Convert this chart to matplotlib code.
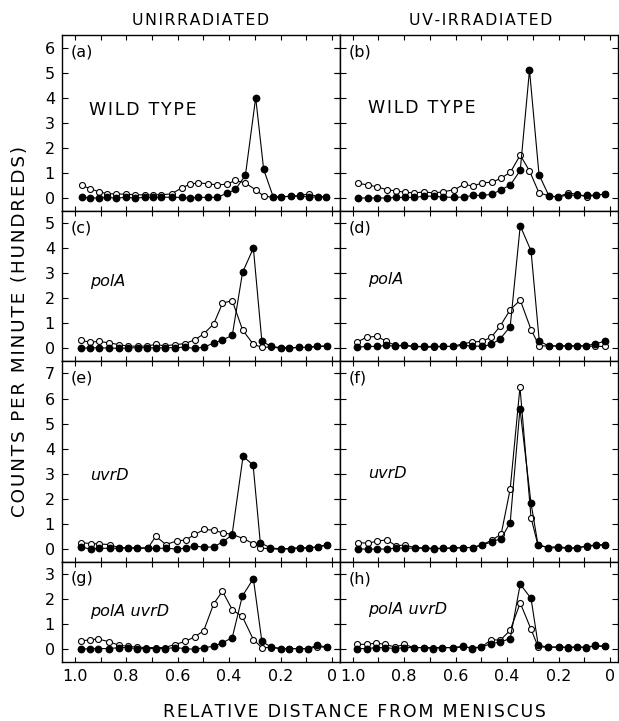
import matplotlib
matplotlib.use('Agg')
import matplotlib.pyplot as plt

plt.rcParams['font.family'] = ['DejaVu Sans']

col_titles = ['UNIRRADIATED', 'UV-IRRADIATED']
panel_tags = ['(a)', '(b)', '(c)', '(d)', '(e)', '(f)', '(g)', '(h)']
strains = ['WILD TYPE', 'polA', 'uvrD', 'polA uvrD']
row_tops = [6, 5, 7, 3]
x_tick_labels = ['1.0', '0.8', '0.6', '0.4', '0.2', '0']
y_title = 'COUNTS PER MINUTE (HUNDREDS)'
x_title = 'RELATIVE DISTANCE FROM MENISCUS'

# (a) wild type, unirradiated
x_a = [0.971, 0.939, 0.906, 0.874, 0.839, 0.800, 0.767, 0.728, 0.695, 0.663, 0.624, 0.585, 0.552, 0.520,
       0.484, 0.448, 0.409, 0.376, 0.337, 0.297, 0.266, 0.229, 0.198, 0.161, 0.125, 0.090, 0.055, 0.022]
open_a = [0.50, 0.36, 0.25, 0.17, 0.16, 0.15, 0.13, 0.12, 0.12, 0.13, 0.16, 0.40, 0.55, 0.60,
          0.57, 0.52, 0.55, 0.70, 0.60, 0.32, 0.08, 0.02, 0.05, 0.06, 0.10, 0.16, 0.05, 0.05]
filled_a = [0.02, 0.00, 0.00, 0.02, 0.00, 0.02, 0.00, 0.02, 0.03, 0.03, 0.03, 0.02, 0.00, 0.03,
            0.02, 0.03, 0.18, 0.34, 0.90, 4.00, 1.14, 0.05, 0.05, 0.07, 0.08, 0.05, 0.03, 0.05]

# (b) wild type, UV
x_b = [0.979, 0.940, 0.905, 0.868, 0.833, 0.797, 0.762, 0.723, 0.686, 0.651, 0.605, 0.566, 0.534, 0.497,
       0.458, 0.423, 0.387, 0.349, 0.313, 0.276, 0.237, 0.202, 0.163, 0.128, 0.091, 0.055, 0.020]
open_b = [0.58, 0.52, 0.44, 0.33, 0.28, 0.23, 0.20, 0.24, 0.20, 0.24, 0.33, 0.55, 0.47, 0.60,
          0.63, 0.79, 1.03, 1.71, 1.08, 0.20, 0.09, 0.04, 0.20, 0.15, 0.04, 0.12, 0.15]
filled_b = [0.00, 0.00, 0.00, 0.00, 0.02, 0.02, 0.02, 0.07, 0.07, 0.04, 0.02, 0.04, 0.10, 0.10,
            0.15, 0.33, 0.52, 1.10, 5.10, 0.93, 0.07, 0.04, 0.12, 0.10, 0.10, 0.12, 0.15]

# (c) polA, unirradiated
x_c = [0.977, 0.940, 0.905, 0.866, 0.827, 0.794, 0.755, 0.720, 0.686, 0.651, 0.612, 0.573, 0.534, 0.499,
       0.460, 0.426, 0.388, 0.348, 0.306, 0.273, 0.237, 0.198, 0.167, 0.130, 0.094, 0.059, 0.020]
open_c = [0.32, 0.25, 0.28, 0.22, 0.15, 0.09, 0.09, 0.09, 0.16, 0.10, 0.15, 0.19, 0.34, 0.58,
          0.98, 1.80, 1.91, 0.74, 0.16, 0.05, 0.05, 0.01, 0.01, 0.04, 0.04, 0.08, 0.09]
filled_c = [0.00, 0.03, 0.02, 0.02, 0.00, 0.02, 0.03, 0.03, 0.02, 0.03, 0.03, 0.05, 0.00, 0.05,
            0.21, 0.34, 0.52, 3.03, 4.00, 0.29, 0.08, 0.03, 0.03, 0.04, 0.04, 0.08, 0.10]

# (d) polA, UV
x_d = [0.984, 0.945, 0.906, 0.870, 0.835, 0.800, 0.763, 0.721, 0.685, 0.648, 0.609, 0.572, 0.535, 0.496,
       0.461, 0.427, 0.388, 0.349, 0.307, 0.275, 0.238, 0.200, 0.164, 0.128, 0.093, 0.057, 0.021]
open_d = [0.25, 0.45, 0.48, 0.29, 0.12, 0.12, 0.08, 0.05, 0.05, 0.08, 0.08, 0.19, 0.25, 0.29,
          0.45, 0.89, 1.54, 1.93, 0.75, 0.10, 0.10, 0.10, 0.10, 0.10, 0.10, 0.08, 0.08]
filled_d = [0.05, 0.08, 0.08, 0.12, 0.09, 0.12, 0.08, 0.08, 0.08, 0.08, 0.08, 0.12, 0.10, 0.08,
            0.16, 0.38, 0.87, 4.89, 3.89, 0.29, 0.10, 0.10, 0.10, 0.10, 0.10, 0.19, 0.28]

# (e) uvrD, unirradiated
x_e = [0.975, 0.936, 0.904, 0.865, 0.828, 0.793, 0.758, 0.715, 0.685, 0.646, 0.604, 0.568, 0.535, 0.496,
       0.458, 0.425, 0.389, 0.346, 0.307, 0.279, 0.240, 0.198, 0.161, 0.125, 0.090, 0.055, 0.018]
open_e = [0.25, 0.22, 0.20, 0.18, 0.05, 0.05, 0.05, 0.05, 0.51, 0.18, 0.32, 0.36, 0.58, 0.78,
          0.75, 0.64, 0.59, 0.42, 0.22, 0.05, 0.00, 0.00, 0.02, 0.05, 0.04, 0.09, 0.15]
filled_e = [0.07, 0.00, 0.03, 0.03, 0.03, 0.05, 0.03, 0.03, 0.03, 0.03, 0.00, 0.04, 0.12, 0.07,
            0.09, 0.29, 0.55, 3.70, 3.35, 0.25, 0.05, 0.00, 0.02, 0.05, 0.04, 0.09, 0.18]

# (f) uvrD, UV
x_f = [0.979, 0.940, 0.905, 0.868, 0.831, 0.797, 0.758, 0.719, 0.686, 0.651, 0.609, 0.570, 0.534, 0.497,
       0.458, 0.423, 0.388, 0.350, 0.307, 0.280, 0.241, 0.202, 0.163, 0.128, 0.091, 0.055, 0.020]
open_f = [0.26, 0.23, 0.32, 0.36, 0.13, 0.16, 0.05, 0.05, 0.03, 0.03, 0.05, 0.06, 0.06, 0.17,
          0.36, 0.60, 2.39, 6.46, 1.25, 0.15, 0.06, 0.04, 0.04, 0.05, 0.10, 0.15, 0.16]
filled_f = [0.00, 0.00, 0.00, 0.00, 0.04, 0.04, 0.03, 0.03, 0.00, 0.03, 0.03, 0.06, 0.06, 0.16,
            0.29, 0.42, 1.05, 5.60, 1.82, 0.17, 0.06, 0.10, 0.04, 0.04, 0.13, 0.16, 0.18]

# (g) polA uvrD, unirradiated
x_g = [0.977, 0.940, 0.908, 0.866, 0.827, 0.794, 0.758, 0.723, 0.686, 0.651, 0.612, 0.570, 0.534, 0.499,
       0.460, 0.426, 0.388, 0.349, 0.306, 0.273, 0.237, 0.198, 0.167, 0.130, 0.094, 0.059, 0.020]
open_g = [0.32, 0.39, 0.41, 0.30, 0.16, 0.12, 0.09, 0.07, 0.07, 0.07, 0.19, 0.32, 0.50, 0.74,
          1.82, 2.32, 1.58, 1.31, 0.39, 0.07, 0.07, 0.03, 0.03, 0.03, 0.03, 0.09, 0.09]
filled_g = [0.00, 0.03, 0.03, 0.03, 0.07, 0.07, 0.03, 0.03, 0.03, 0.03, 0.07, 0.03, 0.00, 0.07,
            0.12, 0.26, 0.47, 2.12, 2.82, 0.32, 0.09, 0.03, 0.03, 0.03, 0.03, 0.16, 0.09]

# (h) polA uvrD, UV
x_h = [0.984, 0.945, 0.909, 0.874, 0.835, 0.800, 0.763, 0.721, 0.688, 0.652, 0.609, 0.572, 0.535, 0.500,
       0.461, 0.427, 0.388, 0.349, 0.307, 0.279, 0.242, 0.200, 0.164, 0.128, 0.093, 0.057, 0.021]
open_h = [0.20, 0.20, 0.25, 0.20, 0.09, 0.20, 0.07, 0.07, 0.07, 0.07, 0.07, 0.09, 0.07, 0.09,
          0.39, 0.36, 0.76, 1.85, 0.80, 0.09, 0.09, 0.09, 0.09, 0.09, 0.09, 0.12, 0.12]
filled_h = [0.03, 0.03, 0.07, 0.07, 0.03, 0.07, 0.07, 0.07, 0.03, 0.07, 0.07, 0.12, 0.03, 0.09,
            0.23, 0.29, 0.43, 2.60, 2.03, 0.16, 0.09, 0.09, 0.07, 0.09, 0.07, 0.16, 0.12]

panels = [(x_a, open_a, filled_a), (x_b, open_b, filled_b),
          (x_c, open_c, filled_c), (x_d, open_d, filled_d),
          (x_e, open_e, filled_e), (x_f, open_f, filled_f),
          (x_g, open_g, filled_g), (x_h, open_h, filled_h)]

# where the strain name sits in each row (data coords: x, y) for left / right panel
strain_pos = [[(0.945, 3.52), (0.94, 3.6)],
              [(0.94, 2.67), (0.94, 2.75)],
              [(0.94, 2.95), (0.94, 3.0)],
              [(0.94, 1.5), (0.94, 1.58)]]


def spaced(s):
    # old lettering-guide text is widely tracked; put a hair space between letters
    return '\u200a'.join(s)


fig = plt.figure(figsize=(6.19, 7.21), dpi=100)
gs = fig.add_gridspec(4, 2, left=0.100, right=0.998, top=0.9515, bottom=0.082,
                      wspace=0, hspace=0, height_ratios=[t + 1 for t in row_tops])

x_ticks = [round(1.0 - 0.1 * i, 1) for i in range(11)]
x_labels = []
for i in range(11):
    x_labels.append(x_tick_labels[i // 2] if i % 2 == 0 else '')

for k, (xs, op, fi) in enumerate(panels):
    row, col = divmod(k, 2)
    ax = fig.add_subplot(gs[row, col])
    ax.plot(xs, op, '-o', color='black', lw=0.8, ms=4.3, mfc='white', mec='black', mew=0.8, zorder=2)
    ax.plot(xs, fi, '-o', color='black', lw=0.8, ms=4.6, mfc='black', mec='black', zorder=3)
    ax.set_xlim(1.05, -0.03)
    ax.set_ylim(-0.5, row_tops[row] + 0.5)
    ax.set_xticks(x_ticks)
    ax.set_yticks(range(row_tops[row] + 1))
    ax.tick_params(axis='x', direction='in', top=True, bottom=True, length=3.5, width=0.8,
                   labelsize=11.5, pad=5)
    ax.tick_params(axis='y', direction='in', left=True, right=True, length=4, width=0.8,
                   labelsize=11.5, pad=5)
    if row == 3:
        ax.set_xticklabels(x_labels)
    else:
        ax.set_xticklabels([])
    if col == 1:
        ax.set_yticklabels([])
        ax.yaxis.set_tick_params(which='major', direction='inout', length=8)
    for sp in ax.spines.values():
        sp.set_linewidth(1.0)
    ax.annotate(panel_tags[k], xy=(0, 1), xycoords='axes fraction', xytext=(6, -7),
                textcoords='offset points', ha='left', va='top', fontsize=11.5)
    sx, sy = strain_pos[row][col]
    if row == 0:
        ax.text(sx, sy, spaced(strains[row]), ha='left', va='center', fontsize=12.5)
    else:
        ax.text(sx, sy, strains[row], ha='left', va='center', fontsize=11.5, style='italic')

fig.text(0.324, 0.972, spaced(col_titles[0]), ha='center', va='center', fontsize=11.3)
fig.text(0.776, 0.972, spaced(col_titles[1]), ha='center', va='center', fontsize=11.3)
fig.text(0.032, 0.54, spaced(y_title), rotation=90, ha='center', va='center', fontsize=13.2)
fig.text(0.572, 0.0125, spaced(x_title), ha='center', va='center', fontsize=12.5)

fig.savefig('out.png', dpi=100)
